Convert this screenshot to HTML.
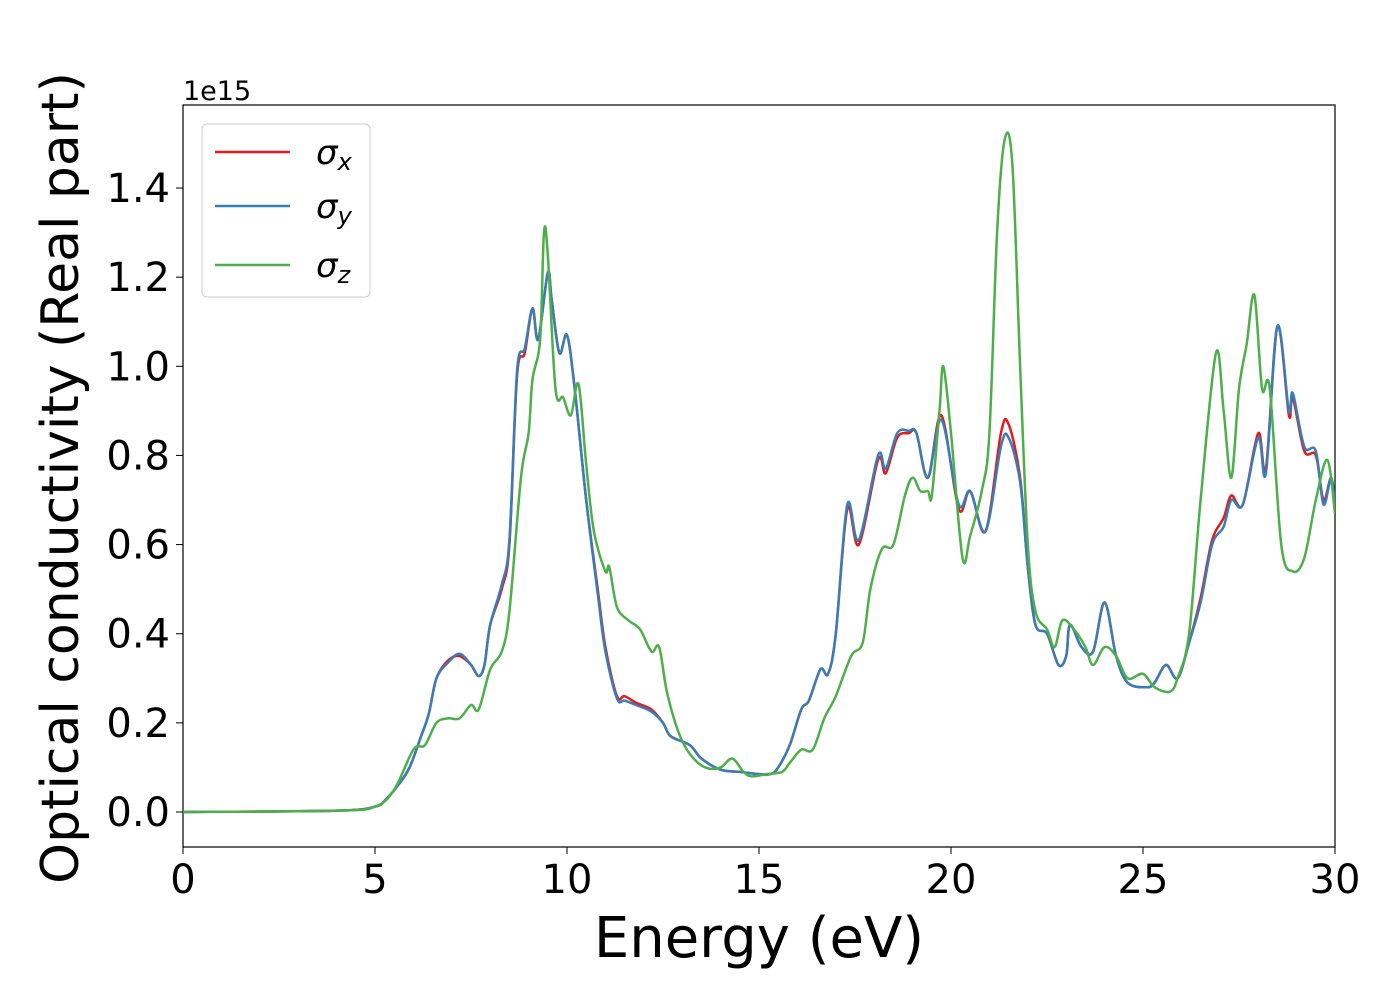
<!DOCTYPE html>
<html><head><meta charset="utf-8"><style>
body{margin:0;background:#fff;}
svg text{font-family:"DejaVu Sans","Liberation Sans",sans-serif;fill:#000;}
</style></head><body>
<svg id="chart" width="1400" height="1000" xmlns="http://www.w3.org/2000/svg">
<rect x="183" y="105" width="1152" height="742" fill="none" stroke="#000" stroke-width="1.2"/>
<g id="xticks"></g>
<g id="yticks"></g>
<text x="183" y="100" font-size="27">1e15</text>
<text x="759" y="957" font-size="56" text-anchor="middle">Energy (eV)</text>
<text transform="translate(78,478) rotate(-90)" font-size="52" text-anchor="middle">Optical conductivity (Real part)</text>
<clipPath id="clip"><rect x="183" y="105" width="1152" height="742"/></clipPath>
<g id="series" clip-path="url(#clip)"></g>
<g>
<rect x="202" y="124" width="168" height="173" rx="5" fill="#fff" fill-opacity="0.8" stroke="#ccc"/>
<line x1="215" y1="152" x2="290" y2="152" stroke="#e41a1c" stroke-width="2.5"/>
<text x="316" y="164" font-size="34" font-style="italic">σ<tspan font-size="24" dy="6">x</tspan></text>
<line x1="215" y1="206" x2="290" y2="206" stroke="#377eb8" stroke-width="2.5"/>
<text x="316" y="218" font-size="34" font-style="italic">σ<tspan font-size="24" dy="6">y</tspan></text>
<line x1="215" y1="265" x2="290" y2="265" stroke="#4daf4a" stroke-width="2.5"/>
<text x="316" y="277" font-size="34" font-style="italic">σ<tspan font-size="24" dy="6">z</tspan></text>
</g>
</svg>
<script>
const xTicks=[0,5,10,15,20,25,30];
const yTicks=[0,0.2,0.4,0.6,0.8,1.0,1.2,1.4];
const energyXY=[0,4,5,5.3,5.6,5.9,6.2,6.4,6.6,6.9,7.2,7.5,7.7,7.85,8.0,8.3,8.5,8.7,8.9,9.1,9.25,9.5,9.6,9.8,10.0,10.2,10.5,10.8,11.0,11.3,11.5,11.8,12.2,12.5,12.7,13.2,13.5,14.0,14.5,15,15.3,15.5,15.8,16.1,16.3,16.6,16.8,17.0,17.3,17.6,18.1,18.3,18.6,18.9,19.1,19.4,19.75,20.2,20.5,20.9,21.3,21.5,21.8,22.0,22.2,22.5,22.8,23.0,23.1,23.4,23.7,24.0,24.3,24.6,25.1,25.3,25.6,25.9,26.2,26.5,26.8,27.1,27.3,27.6,28.0,28.2,28.5,28.8,28.9,29.2,29.5,29.7,29.9,30];
const sigmaX=[0,0.003,0.012,0.03,0.06,0.1,0.17,0.22,0.3,0.34,0.35,0.33,0.305,0.33,0.42,0.5,0.6,0.98,1.03,1.13,1.06,1.21,1.15,1.03,1.07,0.95,0.7,0.5,0.37,0.26,0.26,0.245,0.23,0.2,0.17,0.15,0.12,0.095,0.09,0.085,0.085,0.1,0.15,0.23,0.25,0.32,0.31,0.4,0.68,0.6,0.79,0.76,0.84,0.85,0.85,0.75,0.89,0.68,0.72,0.63,0.85,0.87,0.75,0.55,0.42,0.4,0.33,0.35,0.42,0.37,0.36,0.47,0.35,0.29,0.28,0.29,0.33,0.3,0.38,0.48,0.61,0.66,0.71,0.69,0.85,0.77,1.09,0.89,0.93,0.81,0.8,0.7,0.75,0.68];
const sigmaY=[0,0.003,0.012,0.03,0.06,0.1,0.17,0.22,0.3,0.335,0.355,0.33,0.305,0.33,0.42,0.51,0.61,0.99,1.04,1.13,1.06,1.21,1.15,1.03,1.07,0.95,0.7,0.49,0.36,0.255,0.25,0.24,0.225,0.2,0.17,0.15,0.12,0.095,0.09,0.085,0.085,0.1,0.15,0.23,0.25,0.32,0.31,0.4,0.69,0.61,0.8,0.77,0.85,0.855,0.85,0.75,0.88,0.69,0.72,0.63,0.82,0.84,0.74,0.55,0.42,0.4,0.33,0.35,0.42,0.37,0.36,0.47,0.35,0.29,0.28,0.29,0.33,0.3,0.38,0.47,0.6,0.64,0.7,0.69,0.84,0.76,1.09,0.9,0.94,0.82,0.81,0.69,0.75,0.68];
const energyZ=[0,4,5,5.5,6.0,6.3,6.6,6.9,7.2,7.5,7.7,8.0,8.3,8.5,8.8,9.0,9.1,9.3,9.4,9.5,9.7,9.9,10.1,10.3,10.5,10.7,11.0,11.1,11.3,11.6,11.9,12.2,12.4,12.6,12.9,13.2,13.6,14.0,14.3,14.6,14.8,15.2,15.6,15.8,16.1,16.4,16.7,17.0,17.4,17.7,17.9,18.2,18.5,18.8,19.0,19.2,19.4,19.5,19.7,19.8,20.0,20.3,20.5,20.8,21.0,21.2,21.4,21.6,21.8,22.0,22.2,22.5,22.7,22.9,23.2,23.5,23.7,24.0,24.3,24.6,25.0,25.3,25.7,25.9,26.2,26.5,26.9,27.1,27.3,27.5,27.7,27.9,28.1,28.3,28.6,28.9,29.2,29.5,29.8,30];
const sigmaZ=[0,0.003,0.012,0.05,0.14,0.15,0.2,0.21,0.21,0.24,0.23,0.32,0.36,0.45,0.75,0.85,0.97,1.06,1.3,1.25,0.95,0.93,0.89,0.96,0.78,0.63,0.54,0.55,0.46,0.43,0.41,0.36,0.37,0.27,0.18,0.13,0.1,0.1,0.12,0.09,0.08,0.085,0.09,0.11,0.14,0.14,0.21,0.26,0.35,0.38,0.5,0.59,0.6,0.71,0.75,0.72,0.72,0.71,0.9,1.0,0.85,0.57,0.62,0.72,0.85,1.3,1.51,1.45,1.0,0.6,0.45,0.41,0.37,0.43,0.41,0.37,0.33,0.37,0.35,0.3,0.31,0.28,0.27,0.3,0.4,0.7,1.03,0.9,0.75,0.95,1.05,1.16,0.95,0.95,0.6,0.54,0.57,0.7,0.79,0.67];
const NS="http://www.w3.org/2000/svg";
const X0=183,X1=1335,Y0=812,PY=445.7;
function sx(v){return X0+(v/30)*(X1-X0);}
function sy(v){return Y0-v*PY;}
const svg=document.getElementById('chart');
const gx=document.getElementById('xticks'),gy=document.getElementById('yticks'),gs=document.getElementById('series');
xTicks.forEach(t=>{
 const l=document.createElementNS(NS,'line');
 l.setAttribute('x1',sx(t));l.setAttribute('x2',sx(t));l.setAttribute('y1',847);l.setAttribute('y2',854);l.setAttribute('stroke','#000');
 
 
 gx.appendChild(l);
 const tx=document.createElementNS(NS,'text');
 tx.setAttribute('x',sx(t));tx.setAttribute('y',893);tx.setAttribute('font-size','40');tx.setAttribute('text-anchor','middle');
 tx.textContent=t;
 
 
 gx.appendChild(tx);
});
yTicks.forEach(t=>{
 const l=document.createElementNS(NS,'line');
 l.setAttribute('x1',176);l.setAttribute('x2',183);l.setAttribute('y1',sy(t));l.setAttribute('y2',sy(t));l.setAttribute('stroke','#000');
 
 
 gy.appendChild(l);
 const tx=document.createElementNS(NS,'text');
 tx.setAttribute('x',170);tx.setAttribute('y',sy(t)+14);tx.setAttribute('font-size','40');tx.setAttribute('text-anchor','end');
 tx.textContent=t.toFixed(1);
 
 
 gy.appendChild(tx);
});
function pathFor(xs,ys){
 const p=xs.map((x,i)=>[sx(x),sy(ys[i])]);
 let d='M'+p[0][0]+','+p[0][1];
 for(let i=0;i<p.length-1;i++){
  const a=p[Math.max(i-1,0)],b=p[i],c=p[i+1],e=p[Math.min(i+2,p.length-1)];
  const c1x=b[0]+(c[0]-a[0])/6,c1y=b[1]+(c[1]-a[1])/6,c2x=c[0]-(e[0]-b[0])/6,c2y=c[1]-(e[1]-b[1])/6;
  d+=' C'+c1x+','+c1y+' '+c2x+','+c2y+' '+c[0]+','+c[1];
 }
 return d;
}
[[energyXY,sigmaX,'#e41a1c','series-sigma-x'],[energyXY,sigmaY,'#377eb8','series-sigma-y'],[energyZ,sigmaZ,'#4daf4a','series-sigma-z']].forEach(s=>{
 const pa=document.createElementNS(NS,'path');
 pa.setAttribute('d',pathFor(s[0],s[1]));pa.setAttribute('fill','none');pa.setAttribute('stroke',s[2]);pa.setAttribute('stroke-width','2.5');
 
 
 gs.appendChild(pa);
});
</script>
</body></html>
